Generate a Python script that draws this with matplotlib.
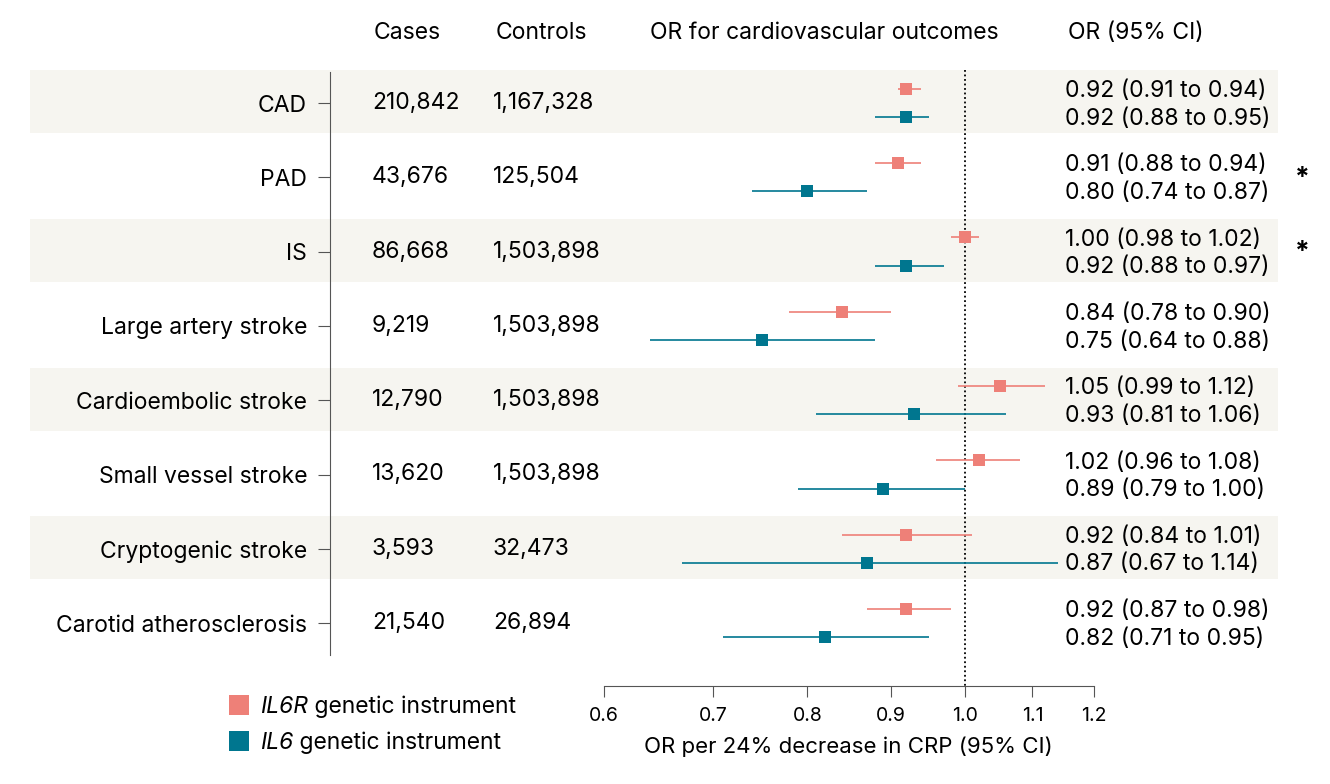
import matplotlib
matplotlib.use("Agg")
import matplotlib.pyplot as plt
from matplotlib.patches import Rectangle
from matplotlib.transforms import blended_transform_factory

plt.rcParams["font.family"] = ["Inter", "DejaVu Sans"]

# data
outcomes = ["CAD", "PAD", "IS", "Large artery stroke", "Cardioembolic stroke",
            "Small vessel stroke", "Cryptogenic stroke", "Carotid atherosclerosis"]
cases = ["210,842", "43,676", "86,668", "9,219", "12,790", "13,620", "3,593", "21,540"]
controls = ["1,167,328", "125,504", "1,503,898", "1,503,898", "1,503,898",
            "1,503,898", "32,473", "26,894"]
il6r_or = [0.92, 0.91, 1.00, 0.84, 1.05, 1.02, 0.92, 0.92]
il6r_lo = [0.91, 0.88, 0.98, 0.78, 0.99, 0.96, 0.84, 0.87]
il6r_hi = [0.94, 0.94, 1.02, 0.90, 1.12, 1.08, 1.01, 0.98]
il6_or = [0.92, 0.80, 0.92, 0.75, 0.93, 0.89, 0.87, 0.82]
il6_lo = [0.88, 0.74, 0.88, 0.64, 0.81, 0.79, 0.67, 0.71]
il6_hi = [0.95, 0.87, 0.97, 0.88, 1.06, 1.00, 1.14, 0.95]
heterogeneity = [False, True, True, False, False, False, False, False]
xticks = [0.6, 0.7, 0.8, 0.9, 1.0, 1.1, 1.2]

PINK = "#ee8078"
TEAL = "#00768f"
BAND = "#f6f5f0"
W, H = 1330, 784
FS = 16.5

fig = plt.figure(figsize=(W / 100, H / 100), dpi=100)
# axes spans from the label spine (x=330px) to the 1.2 tick (x=1094px)
ax = fig.add_axes([330 / W, 1 - 686 / H, (1094 - 330) / W, (686 - 60) / H])
ax.set_xscale("log")
x_left = 0.6 * 2 ** (-(604 - 330) / (1094 - 604))
ax.set_xlim(x_left, 1.2)
row_h = 74.3
ax.set_ylim((686 - 103) / row_h, (60 - 103) / row_h)

rows = list(range(len(outcomes)))
off = 0.19

fig_y = blended_transform_factory(fig.transFigure, ax.transData)

# shaded bands on alternate rows
for i in rows:
    if i % 2 == 0:
        ax.add_patch(Rectangle((30 / W, i - 0.44), (1278 - 30) / W, 0.85,
                               transform=fig_y, facecolor=BAND, edgecolor="none",
                               clip_on=False, zorder=0))

ax.vlines(1.0, -0.44, ax.get_ylim()[0], colors="black", linestyles=(0, (1, 1.5)),
          lw=1.3, zorder=1)

for i in rows:
    ax.hlines(i - off, il6r_lo[i], il6r_hi[i], color=PINK, lw=1.2, zorder=2)
    ax.hlines(i + off, il6_lo[i], il6_hi[i], color=TEAL, lw=1.2, zorder=2)
ax.plot(il6r_or, [r - off for r in rows], "s", color=PINK, ms=8.3, mew=0, zorder=3)
ax.plot(il6_or, [r + off for r in rows], "s", color=TEAL, ms=8.3, mew=0, zorder=3)

# axes styling
for s in ["top", "right"]:
    ax.spines[s].set_visible(False)
ax.spines["left"].set_bounds((72 - 103) / row_h, (655 - 103) / row_h)
ax.spines["bottom"].set_bounds(0.6, 1.2)
ax.spines["left"].set_color("#555555")
ax.spines["bottom"].set_color("#555555")
ax.set_yticks(rows)
ax.set_yticklabels(outcomes, fontsize=FS)
ax.tick_params(axis="y", length=8.5, width=0.8, color="#555555", pad=8)
ax.set_xticks(xticks)
ax.set_xticklabels([f"{t:.1f}" for t in xticks], fontsize=14)
ax.xaxis.set_minor_locator(plt.NullLocator())
ax.tick_params(axis="x", length=8, width=0.8, color="#555555", pad=7)
ax.set_xlabel("OR per 24% decrease in CRP (95% CI)", fontsize=16)
ax.xaxis.set_label_coords((848 - 330) / (1094 - 330), -0.08)

# table columns
for i in rows:
    ax.text(372 / W, i, cases[i], transform=fig_y, fontsize=FS, va="center", ha="left")
    ax.text(493 / W, i, controls[i], transform=fig_y, fontsize=FS, va="center", ha="left")
    ax.text(1065 / W, i - off + 0.03, f"{il6r_or[i]:.2f} ({il6r_lo[i]:.2f} to {il6r_hi[i]:.2f})",
            transform=fig_y, fontsize=FS, va="center", ha="left")
    ax.text(1065 / W, i + off + 0.02, f"{il6_or[i]:.2f} ({il6_lo[i]:.2f} to {il6_hi[i]:.2f})",
            transform=fig_y, fontsize=FS, va="center", ha="left")
    if heterogeneity[i]:
        ax.text(1302 / W, i + 0.02, "*", transform=fig_y, fontsize=19,
                fontweight="bold", va="center", ha="center")

hy = 1 - 33 / H
fig.text(374 / W, hy, "Cases", fontsize=FS, va="center", ha="left")
fig.text(496 / W, hy, "Controls", fontsize=FS, va="center", ha="left")
fig.text(824 / W, hy, "OR for cardiovascular outcomes", fontsize=FS, va="center", ha="center")
fig.text(1068 / W, hy, "OR (95% CI)", fontsize=FS, va="center", ha="left")

# legend
for color, name, yc in [(PINK, "IL6R", 705), (TEAL, "IL6", 741)]:
    fig.patches.append(Rectangle((229 / W, 1 - (yc + 10) / H), 20 / W, 20 / H,
                                 transform=fig.transFigure, facecolor=color,
                                 edgecolor="none"))
    t = fig.text(260 / W, 1 - (yc + 2) / H, name, fontsize=FS, style="italic",
                 va="center", ha="left")
    ax.annotate(" genetic instrument", xy=(1, 0.5), xycoords=t, fontsize=FS,
                va="center", ha="left", annotation_clip=False)

fig.savefig("out.png", dpi=100)
